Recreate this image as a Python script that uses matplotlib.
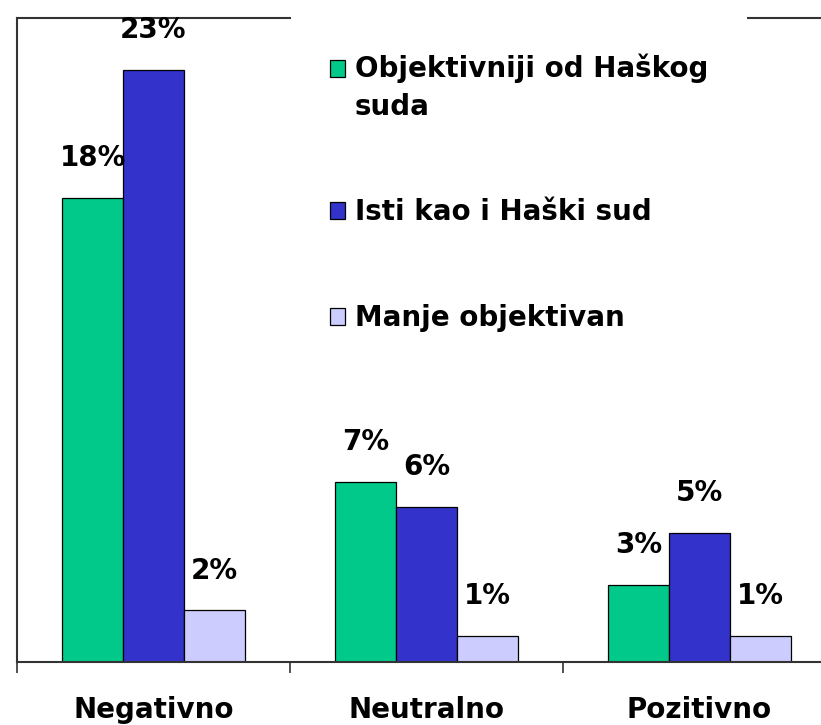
import numpy as np
import matplotlib.pyplot as plt
from matplotlib.patches import Patch, Rectangle
from matplotlib.legend_handler import HandlerPatch

categories = ['Negativno', 'Neutralno', 'Pozitivno']
series = ['Objektivniji od Haškog\nsuda', 'Isti kao i Haški sud', 'Manje objektivan']
objektivniji = [18, 7, 3]
isti = [23, 6, 5]
manje = [2, 1, 1]
colors = ['#00C98A', '#3333CC', '#CCCCFF']

plt.rcParams['font.family'] = 'DejaVu Sans'
plt.rcParams['font.weight'] = 'bold'
plt.rcParams['font.size'] = 20

fig = plt.figure(figsize=(8.21, 7.25), dpi=100)
ax = fig.add_axes([17 / 821, 63 / 725, 819 / 821, 644 / 725])

x = np.arange(len(categories))
w = 0.223
for i, (vals, col) in enumerate(zip([objektivniji, isti, manje], colors)):
    pos = x + (i - 1) * w
    ax.bar(pos, vals, w, color=col, edgecolor='black', linewidth=0.9, zorder=2)
    for px, v in zip(pos, vals):
        ax.annotate(f'{v}%', (px, v), xytext=(0, 23), textcoords='offset points',
                    ha='center', va='baseline', zorder=4)


# first entry has a two-line label, keep its box next to the first line
def raised(legend, orig_handle, xdescent, ydescent, width, height, fontsize):
    return Rectangle((-xdescent, -ydescent + 14.4), width, height)


handles = [Patch(facecolor=c, edgecolor='black', linewidth=0.9) for c in colors]
leg = ax.legend(handles, series, loc='upper left',
                bbox_to_anchor=(291 / 821, 1 - 15 / 725), bbox_transform=fig.transFigure,
                frameon=True, fancybox=False, edgecolor='none', facecolor='white',
                framealpha=1, borderpad=1.4, borderaxespad=0,
                handlelength=0.54, handleheight=0.54, handletextpad=0.36,
                labelspacing=2.8,
                handler_map={handles[0]: HandlerPatch(patch_func=raised)})
for t in leg.get_texts():
    t.set_linespacing(1.42)

ax.set_xlim(-0.5, 2.5)
ax.set_ylim(0, 25)
ax.set_xticks(x, categories)
ax.tick_params(axis='x', which='major', length=0, pad=24.5)
ax.set_xticks([-0.5, 0.5, 1.5, 2.5], minor=True)
ax.tick_params(axis='x', which='minor', length=8, width=1.2, color='#333333')
ax.set_yticks([])

ax.spines['right'].set_visible(False)
for s in ['left', 'top', 'bottom']:
    ax.spines[s].set_color('#333333')
    ax.spines[s].set_linewidth(1.5)

fig.savefig('out.png', dpi=100)
